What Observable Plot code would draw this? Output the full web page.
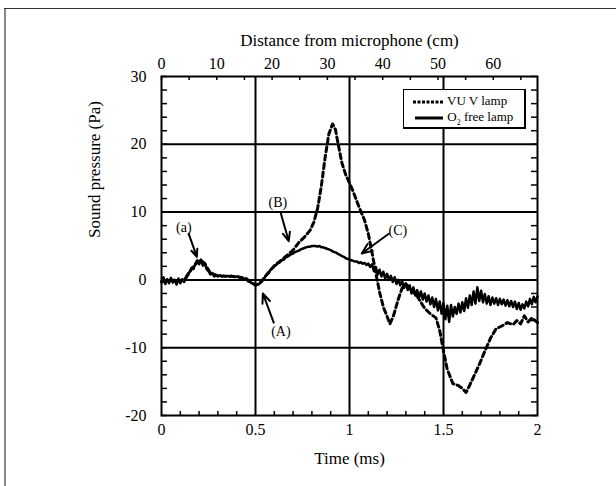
<!DOCTYPE html>
<html><head><meta charset="utf-8">
<script src="https://cdn.jsdelivr.net/npm/d3@7"></script>
<script src="https://cdn.jsdelivr.net/npm/@observablehq/plot@0.6"></script>
<style>
body{margin:0;background:#fff;}
#wrap{position:relative;width:616px;height:486px;overflow:hidden;font-family:"Liberation Serif","Times New Roman",serif;}
#bl{position:absolute;left:4px;top:8px;width:2px;height:478px;background:#888;}
#bt{position:absolute;left:4px;top:8px;width:612px;height:1px;background:#333;}
#legend{position:absolute;left:403px;top:89px;width:120px;height:37px;border:1px solid #000;border-right-width:2px;border-bottom-width:2px;background:#fff;font-size:13px;color:#000;}
#legend .row{position:absolute;left:8px;height:16px;line-height:16px;white-space:nowrap;}
#legend svg{vertical-align:middle;}
</style>
</head><body>
<div id="wrap"><div id="bl"></div><div id="bt"></div></div>
<script>
// O2 free lamp (solid) — time (ms) and sound pressure (Pa)
const o2Time = [0.00,0.01,0.02,0.03,0.04,0.05,0.06,0.07,0.08,0.09,0.10,0.11,0.12,0.13,0.14,0.15,0.16,0.17,0.18,0.19,
0.20,0.21,0.22,0.23,0.24,0.25,0.26,0.27,0.28,0.29,0.30,0.31,0.32,0.33,0.34,0.35,0.36,0.37,0.38,0.39,
0.40,0.41,0.42,0.43,0.44,0.45,0.46,0.47,0.48,0.49,0.50,0.51,0.52,0.53,0.54,0.55,0.56,0.57,0.58,0.59,
0.60,0.61,0.62,0.63,0.64,0.65,0.66,0.67,0.68,0.69,0.70,0.71,0.72,0.73,0.74,0.75,0.76,0.77,0.78,0.79,
0.80,0.81,0.82,0.83,0.84,0.85,0.86,0.87,0.88,0.89,0.90,0.91,0.92,0.93,0.94,0.95,0.96,0.97,0.98,0.99,
1.00,1.01,1.02,1.03,1.04,1.05,1.06,1.07,1.08,1.09,1.10,1.11,1.12,1.13,1.14,1.15,1.16,1.17,1.18,1.19,
1.20,1.21,1.22,1.23,1.24,1.25,1.26,1.27,1.28,1.29,1.30,1.31,1.32,1.33,1.34,1.35,1.36,1.37,1.38,1.39,
1.40,1.41,1.42,1.43,1.44,1.45,1.46,1.47,1.48,1.49,1.50,1.51,1.52,1.53,1.54,1.55,1.56,1.57,1.58,1.59,
1.60,1.61,1.62,1.63,1.64,1.65,1.66,1.67,1.68,1.69,1.70,1.71,1.72,1.73,1.74,1.75,1.76,1.77,1.78,1.79,
1.80,1.81,1.82,1.83,1.84,1.85,1.86,1.87,1.88,1.89,1.90,1.91,1.92,1.93,1.94,1.95,1.96,1.97,1.98,1.99,2.00];
const o2Pressure = [-0.2,0.4,-0.6,0.1,-0.5,0.3,-0.4,0.0,-0.7,0.2,-0.5,0.1,-0.3,0.4,0.9,1.2,1.8,1.6,2.4,2.9,
2.3,3.0,2.1,2.5,1.6,1.3,0.8,1.0,0.5,0.7,0.5,0.7,0.5,0.6,0.5,0.6,0.5,0.6,0.5,0.4,
0.5,0.4,0.3,0.3,0.1,0.2,-0.2,-0.3,-0.5,-0.6,-0.8,-0.7,-0.6,-0.3,0.0,0.4,0.8,1.0,1.5,1.7,
2.0,2.2,2.5,2.6,2.9,3.0,3.3,3.4,3.6,3.8,3.9,4.1,4.2,4.3,4.5,4.6,4.7,4.8,4.9,4.9,
5.0,5.0,5.0,4.9,5.0,4.8,4.8,4.7,4.6,4.5,4.4,4.2,4.1,4.0,3.8,3.7,3.5,3.4,3.2,3.1,
3.0,2.9,2.8,2.7,2.7,2.5,2.6,2.4,2.5,2.2,2.4,1.9,2.3,1.3,1.9,0.8,1.5,0.5,1.2,0.2,
0.9,0.0,0.6,-0.3,0.4,-0.6,0.0,-0.8,-0.2,-1.2,-0.5,-1.5,-0.8,-2.0,-1.1,-2.3,-1.5,-2.6,-1.7,-2.9,
-2.0,-3.2,-2.3,-3.6,-2.6,-4.0,-2.8,-4.5,-3.2,-5.0,-3.4,-5.8,-3.8,-6.2,-3.7,-5.4,-4.0,-5.0,-3.5,-4.8,
-3.3,-4.6,-2.7,-4.1,-2.3,-3.7,-1.7,-3.5,-1.1,-3.1,-1.6,-3.3,-2.1,-3.5,-2.4,-3.7,-2.6,-3.5,-2.7,-3.7,
-2.8,-3.6,-2.9,-3.8,-3.0,-3.9,-3.1,-4.0,-3.2,-4.3,-3.4,-4.4,-3.6,-4.2,-3.2,-3.9,-2.8,-3.6,-2.5,-3.3,-2.4];

// VUV lamp (dashed)
const vuvTime = [0.00,0.05,0.10,0.13,0.16,0.19,0.21,0.23,0.26,0.30,0.40,0.45,0.50,0.53,0.56,0.60,0.65,0.70,0.73,0.76,
0.79,0.81,0.83,0.85,0.87,0.89,0.91,0.925,0.94,0.96,0.98,1.00,1.02,1.05,1.08,1.10,1.12,1.14,1.16,1.18,
1.20,1.215,1.235,1.26,1.28,1.30,1.33,1.36,1.40,1.43,1.46,1.48,1.50,1.52,1.55,1.58,1.60,1.62,1.64,1.66,
1.69,1.72,1.75,1.78,1.81,1.84,1.87,1.89,1.91,1.93,1.95,1.97,2.00];
const vuvPressure = [-0.3,0.0,-0.2,0.3,1.6,2.6,2.9,2.4,1.0,0.6,0.5,0.2,-0.8,-0.3,0.8,2.1,3.2,4.4,5.5,6.3,
7.3,8.5,10.5,13.8,18.0,21.5,23.0,22.2,20.0,17.2,15.5,14.3,13.0,10.8,8.8,6.8,4.0,1.0,-1.8,-4.0,
-5.4,-6.5,-5.2,-2.8,-1.2,-0.6,-1.5,-2.4,-4.2,-5.0,-5.6,-7.5,-10.5,-13.2,-15.3,-15.6,-16.0,-16.6,-15.5,-14.3,
-12.5,-10.5,-8.6,-7.2,-6.8,-6.3,-6.6,-6.0,-6.5,-5.3,-6.2,-5.6,-6.3];

// axes
const xTicks = [0, 0.5, 1, 1.5, 2];
const xMinor = [0.1,0.2,0.3,0.4,0.6,0.7,0.8,0.9,1.1,1.2,1.3,1.4,1.6,1.7,1.8,1.9];
const yTicks = [-20, -10, 0, 10, 20, 30];
const yMinor = [-18,-16,-14,-12,-8,-6,-4,-2,2,4,6,8,12,14,16,18,22,24,26,28];
const distTicks = [0, 10, 20, 30, 40, 50, 60];
const distMinor = [5, 15, 25, 35, 45, 55, 65];
const cmPerMs = 34; // speed of sound, 340 m/s
const gridX = [0.5, 1, 1.5];
const gridY = [20, 10, 0, -10];

// annotations (data units)
const noteText = ["(a)", "(B)", "(C)", "(A)"];
const noteX = [0.119, 0.619, 1.257, 0.635];
const noteY = [7.7, 11.4, 7.3, -7.6];
const arrowX1 = [0.145, 0.635, 1.209, 0.597];
const arrowY1 = [6.8, 9.8, 6.8, -6.3];
const arrowX2 = [0.188, 0.677, 1.065, 0.539];
const arrowY2 = [3.4, 5.7, 3.9, -2.0];

const o2 = o2Time.map((t, i) => ({t, p: o2Pressure[i]}));
const vuv = vuvTime.map((t, i) => ({t, p: vuvPressure[i]}));
const notes = noteText.map((s, i) => ({s, x: noteX[i], y: noteY[i], x1: arrowX1[i], y1: arrowY1[i], x2: arrowX2[i], y2: arrowY2[i]}));

const W = 616, H = 486;
const mL = 161, mR = 79, mT = 76, mB = 71;
const pxX = 2 / (W - mL - mR);  // ms per pixel
const pxY = 50 / (H - mT - mB); // Pa per pixel

const chart = Plot.plot({
  width: W, height: H,
  marginLeft: mL, marginRight: mR, marginTop: mT, marginBottom: mB,
  style: {fontFamily: '"Liberation Serif","Times New Roman",serif', fontSize: "16px", background: "transparent", color: "#000", overflow: "visible"},
  x: {domain: [0, 2]},
  y: {domain: [-20, 30]},
  marks: [
    Plot.ruleY(gridY, {stroke: "#000", strokeWidth: 2}),
    Plot.ruleX(gridX, {stroke: "#000", strokeWidth: 2}),
    Plot.frame({stroke: "#000", strokeWidth: 2}),
    // inward minor/major ticks
    Plot.ruleY(yMinor.concat(yTicks), {x1: 0, x2: 6 * pxX, stroke: "#000", strokeWidth: 1.5}),
    Plot.ruleY(yMinor.concat(yTicks), {x1: 2 - 6 * pxX, x2: 2, stroke: "#000", strokeWidth: 1.5}),
    Plot.ruleX(xMinor, {y1: -20, y2: -20 + 4 * pxY, stroke: "#000", strokeWidth: 1.5}),
    Plot.ruleX(distTicks.concat(distMinor).map(d => d / cmPerMs), {y1: 30 - 4 * pxY, y2: 30, stroke: "#000", strokeWidth: 1.5}),
    Plot.axisX({anchor: "bottom", ticks: xTicks, tickSize: 0, tickPadding: 8, label: null, tickFormat: d => String(d)}),
    Plot.axisX({anchor: "top", ticks: distTicks.map(d => d / cmPerMs), tickSize: 0, tickPadding: 8, label: null, tickFormat: d => String(Math.round(d * cmPerMs))}),
    Plot.axisY({anchor: "left", ticks: yTicks, tickSize: 0, tickPadding: 15, label: null, tickFormat: d => String(d)}),
    Plot.text(["Time (ms)"], {frameAnchor: "bottom", dy: 48, fontSize: 17}),
    Plot.text(["Distance from microphone (cm)"], {frameAnchor: "top", dy: -43, fontSize: 17}),
    Plot.text(["Sound pressure (Pa)"], {frameAnchor: "left", rotate: -90, dx: -67, dy: -8, fontSize: 17}),
    Plot.line(o2, {x: "t", y: "p", stroke: "#000", strokeWidth: 2.5}),
    Plot.line(vuv, {x: "t", y: "p", stroke: "#000", strokeWidth: 3, strokeDasharray: "5,3.5"}),
    Plot.arrow(notes, {x1: "x1", y1: "y1", x2: "x2", y2: "y2", stroke: "#000", strokeWidth: 2, headLength: 9, headAngle: 45}),
    Plot.text(notes, {x: "x", y: "y", text: "s", fontSize: 14})
  ]
});

const wrap = document.getElementById("wrap");
chart.style.position = "absolute";
chart.style.left = "0px";
chart.style.top = "0px";
wrap.appendChild(chart);

const legend = document.createElement("div");
legend.id = "legend";
legend.innerHTML =
  '<div class="row" style="top:3px"><svg width="32" height="6"><line x1="1" y1="3" x2="31" y2="3" stroke="#000" stroke-width="3" stroke-dasharray="3,1.5"/></svg> VU V lamp</div>' +
  '<div class="row" style="top:19px"><svg width="32" height="6"><line x1="3" y1="3" x2="31" y2="3" stroke="#000" stroke-width="3"/></svg> O<sub style="font-size:8px">2</sub> free lamp</div>';
wrap.appendChild(legend);
</script>
</body></html>
